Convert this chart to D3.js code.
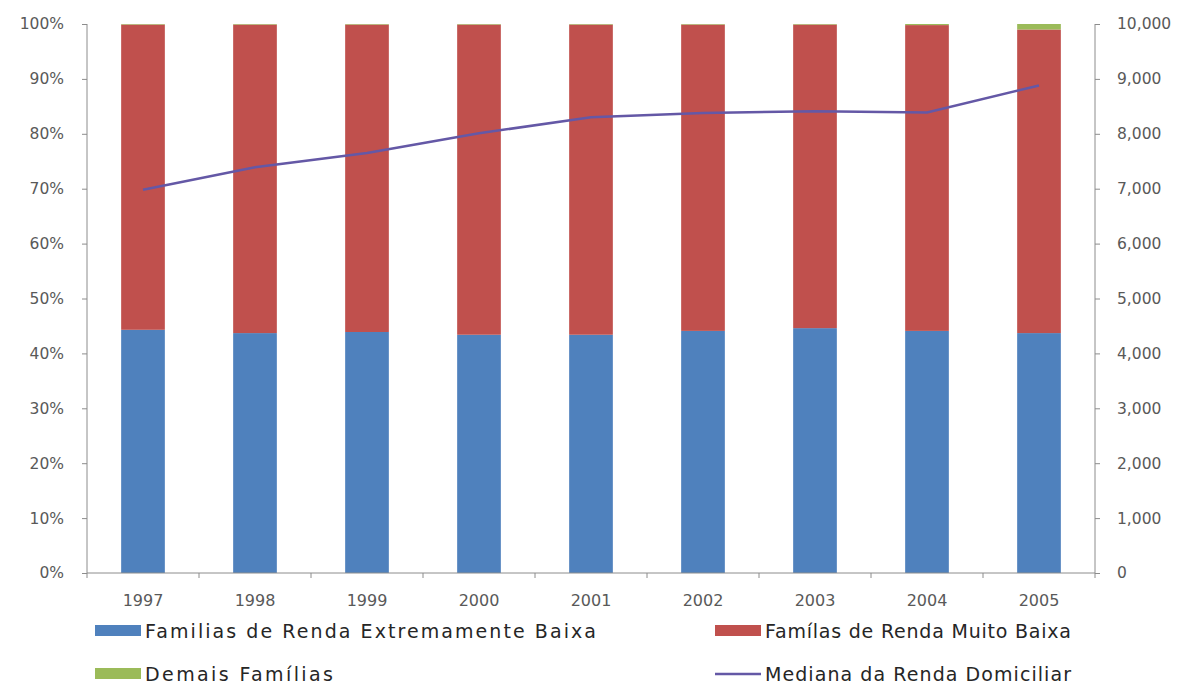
<!DOCTYPE html>
<html>
<head>
<meta charset="utf-8">
<script src="https://cdn.jsdelivr.net/npm/d3@7"></script>
<style>
  html, body { margin: 0; padding: 0; background: #fff; }
  svg { display: block; }
</style>
</head>
<body>
<svg id="chart" width="1189" height="686"></svg>
<script>
// Household income categories by year (share of families, %) and median income
const years = ["1997", "1998", "1999", "2000", "2001", "2002", "2003", "2004", "2005"];
const extremamenteBaixa = [44.3, 43.7, 43.9, 43.4, 43.4, 44.1, 44.6, 44.1, 43.7];
const demaisFamilias = [0.1, 0.1, 0.1, 0.1, 0.1, 0.1, 0.1, 0.2, 1.0];
const muitoBaixa = years.map((_, i) => +(100 - extremamenteBaixa[i] - demaisFamilias[i]).toFixed(1));
const medianaRenda = [6980, 7390, 7650, 8010, 8300, 8380, 8410, 8390, 8880];

const leftTicks = [0, 10, 20, 30, 40, 50, 60, 70, 80, 90, 100];
const rightTicks = [0, 1000, 2000, 3000, 4000, 5000, 6000, 7000, 8000, 9000, 10000];

const seriesNames = {
  blue: "Familias de Renda Extremamente Baixa",
  red: "Famílas de Renda Muito Baixa",
  green: "Demais Famílias",
  line: "Mediana da Renda Domiciliar"
};

const colors = { blue: "#4F81BD", red: "#C0504D", green: "#9BBB59", line: "#6458A6", axis: "#8C8C8C", tick: "#595959" };

const svg = d3.select("#chart");
const margin = { left: 87, right: 94, top: 24, bottom: 113 };
const W = 1189, H = 686;
const x0 = margin.left, x1 = W - margin.right, y0 = H - margin.bottom, y1 = margin.top;

const x = d3.scaleBand().domain(years).range([x0, x1]).paddingInner(0.61).paddingOuter(0.305);
const yPct = d3.scaleLinear().domain([0, 100]).range([y0, y1]);
const yVal = d3.scaleLinear().domain([0, 10000]).range([y0, y1]);

// Stacked bars: blue bottom, red middle, green top
const rows = years.map((yr, i) => ({ year: yr, blue: extremamenteBaixa[i], red: muitoBaixa[i], green: demaisFamilias[i] }));
const stack = d3.stack().keys(["blue", "red", "green"]);
const layers = stack(rows);

svg.append("g").selectAll("g").data(layers).join("g")
  .attr("fill", d => colors[d.key])
  .selectAll("rect").data(d => d).join("rect")
  .attr("x", d => x(d.data.year))
  .attr("width", x.bandwidth())
  .attr("y", d => yPct(d[1]))
  .attr("height", d => yPct(d[0]) - yPct(d[1]));

// Axes
const tickFont = "'DejaVu Sans', Verdana, sans-serif";
const leftAxis = d3.axisLeft(yPct).tickValues(leftTicks).tickFormat(d => d + "%").tickSize(5).tickPadding(18);
const gl = svg.append("g").attr("transform", `translate(${x0},0)`).call(leftAxis);
const rightAxis = d3.axisRight(yVal).tickValues(rightTicks).tickFormat(d3.format(",")).tickSize(5).tickPadding(18);
const gr = svg.append("g").attr("transform", `translate(${x1},0)`).call(rightAxis);
const bottomAxis = d3.axisBottom(x).tickSize(0).tickPadding(22);
const gb = svg.append("g").attr("transform", `translate(0,${y0})`).call(bottomAxis);

[gl, gr, gb].forEach(g => {
  g.select(".domain").attr("stroke", colors.axis);
  g.selectAll(".tick line").attr("stroke", colors.axis);
  g.selectAll("text").attr("fill", colors.tick).style("font-family", tickFont).style("font-size", "15.5px");
});
gl.select(".domain").attr("d", `M0,${y0}V${y1}`);
gr.select(".domain").attr("d", `M0,${y0}V${y1}`);
gb.select(".domain").attr("d", `M${x0},0H${x1}`);
gl.selectAll("text").attr("x", -23).attr("text-anchor", "end");
gr.selectAll("text").attr("x", 22);
gb.selectAll("text").style("font-size", "16px");

// Category boundary ticks on the x axis
const step = x.step();
svg.append("g").selectAll("line").data(d3.range(years.length + 1)).join("line")
  .attr("x1", i => x0 + i * step).attr("x2", i => x0 + i * step)
  .attr("y1", y0).attr("y2", y0 + 5)
  .attr("stroke", colors.axis);

// Median household income line
const line = d3.line().x((d, i) => x(years[i]) + x.bandwidth() / 2).y(d => yVal(d));
svg.append("path").datum(medianaRenda)
  .attr("d", line).attr("fill", "none")
  .attr("stroke", colors.line).attr("stroke-width", 2.5);

// Legend
const legendFont = "'DejaVu Sans', Verdana, sans-serif";
const legend = [
  { key: "blue", type: "rect", x: 95, y: 631, w: 451 },
  { key: "red", type: "rect", x: 715, y: 631, w: 306 },
  { key: "green", type: "rect", x: 95, y: 674, w: 188 },
  { key: "line", type: "line", x: 715, y: 674, w: 306 }
];
const lg = svg.append("g");
legend.forEach(l => {
  if (l.type === "rect") {
    lg.append("rect").attr("x", l.x).attr("y", l.y - 6).attr("width", 46).attr("height", 11).attr("fill", colors[l.key]);
  } else {
    lg.append("line").attr("x1", l.x).attr("x2", l.x + 46).attr("y1", l.y).attr("y2", l.y)
      .attr("stroke", colors.line).attr("stroke-width", 2.5);
  }
  lg.append("text").attr("x", l.x + 50).attr("y", l.y + 6.5)
    .attr("textLength", l.w).attr("lengthAdjust", "spacing")
    .style("font-family", legendFont).style("font-size", "19px").attr("fill", "#262626")
    .text(seriesNames[l.key]);
});
</script>
</body>
</html>
